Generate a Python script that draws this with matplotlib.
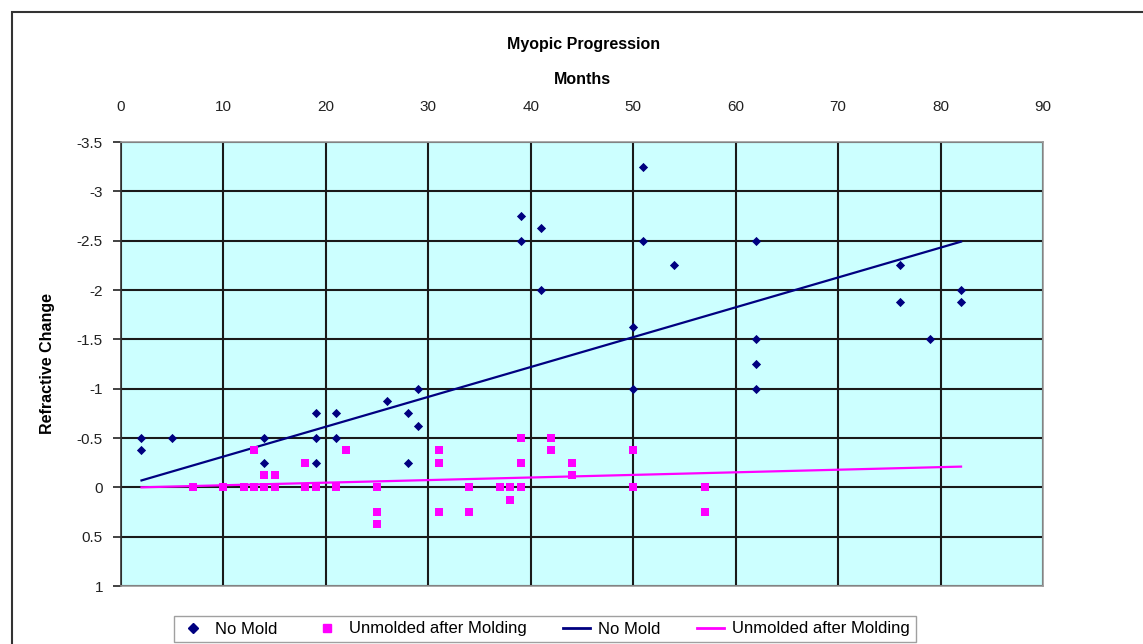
import numpy as np
import matplotlib.pyplot as plt
from matplotlib.lines import Line2D
from matplotlib.patches import Rectangle

plt.rcParams['font.family'] = ['Liberation Sans', 'DejaVu Sans']

# No Mold (months, refractive change)
nomold_x = [2, 2, 5, 14, 14, 19, 19, 19, 21, 21, 26, 28, 28, 29, 29,
            39, 39, 41, 41, 50, 50, 51, 51, 54, 62, 62, 62, 62,
            76, 76, 79, 82, 82]
nomold_y = [-0.5, -0.375, -0.5, -0.5, -0.25, -0.75, -0.5, -0.25, -0.75, -0.5,
            -0.875, -0.75, -0.25, -1.0, -0.625,
            -2.75, -2.5, -2.625, -2.0, -1.625, -1.0, -3.25, -2.5, -2.25,
            -2.5, -1.5, -1.25, -1.0,
            -2.25, -1.875, -1.5, -2.0, -1.875]

# Unmolded after Molding
unmold_x = [7, 10, 12, 13, 13, 14, 14, 15, 15, 18, 18, 19, 21, 22,
            25, 25, 25, 31, 31, 31, 34, 34, 37, 38, 38, 39, 39, 39,
            42, 42, 44, 44, 50, 50, 57, 57]
unmold_y = [0, 0, 0, 0, -0.375, 0, -0.125, -0.125, 0, -0.25, 0, 0, 0, -0.375,
            0, 0.25, 0.375, -0.375, -0.25, 0.25, 0, 0.25, 0, 0, 0.125,
            -0.5, -0.25, 0, -0.5, -0.375, -0.25, -0.125, -0.375, 0, 0, 0.25]

# linear trendlines as shown in the chart
trend_x = [2, 82]
nomold_trend = [-0.07, -2.49]
unmold_trend = [0.0, -0.21]

navy = '#000080'
magenta = '#FF00FF'

fig = plt.figure(figsize=(11.43, 6.44), dpi=100)
fig.patches.append(Rectangle((12 / 1143, -0.1), 1.2, 1 - 12 / 644 + 0.1,
                             transform=fig.transFigure, fill=False,
                             edgecolor='#333333', linewidth=1.5))

ax = fig.add_axes([121 / 1143, 1 - 586 / 644, (1043 - 121) / 1143, (586 - 142) / 644])
ax.set_facecolor('#CCFFFF')

ax.plot(trend_x, nomold_trend, color=navy, linewidth=1.6, zorder=3)
ax.plot(trend_x, unmold_trend, color=magenta, linewidth=1.6, zorder=3)
ax.scatter(nomold_x, nomold_y, marker='D', s=22, color=navy, zorder=4, linewidths=0)
ax.scatter(unmold_x, unmold_y, marker='s', s=30, color=magenta, zorder=4, linewidths=0)

ax.set_xlim(0, 90)
ax.set_ylim(1, -3.5)
ax.set_xticks(np.arange(0, 91, 10))
ax.set_yticks(np.arange(-3.5, 1.01, 0.5))
ax.set_yticklabels(['-3.5', '-3', '-2.5', '-2', '-1.5', '-1', '-0.5', '0', '0.5', '1'])
ax.xaxis.tick_top()
ax.xaxis.set_label_position('top')
ax.tick_params(axis='both', labelsize=11, labelcolor='#222222')
ax.tick_params(axis='y', direction='out', length=6, width=1.3, color='#333333', pad=7)
ax.tick_params(axis='x', length=0, pad=20)
ax.grid(True, color='#1a1a1a', linewidth=1.5)
ax.set_axisbelow(True)
for s in ax.spines.values():
    s.set_color('#999999')
    s.set_linewidth(1.2)
ax.spines['left'].set_color('#333333')

ax.set_xlabel('Months', fontsize=11.5, fontweight='bold', labelpad=12)
ax.set_ylabel('Refractive Change', fontsize=11.5, fontweight='bold', labelpad=16)
fig.text(584 / 1143, 1 - 44 / 644, 'Myopic Progression', ha='center', va='center',
         fontsize=11.5, fontweight='bold')

handles = [
    Line2D([], [], marker='D', color=navy, linestyle='none', markersize=5),
    Line2D([], [], marker='s', color=magenta, linestyle='none', markersize=6),
    Line2D([], [], color=navy, linewidth=2),
    Line2D([], [], color=magenta, linewidth=2),
]
labels = ['No Mold', 'Unmolded after Molding', 'No Mold', 'Unmolded after Molding']
fig.legend(handles, labels, loc='center', bbox_to_anchor=(545 / 1143, 1 - 629 / 644),
           ncol=4, fontsize=12, frameon=True, fancybox=False, edgecolor='#888888',
           handlelength=1.6, handletextpad=0.5, columnspacing=2.2,
           borderpad=0.35)

fig.savefig('out.png', dpi=100)
